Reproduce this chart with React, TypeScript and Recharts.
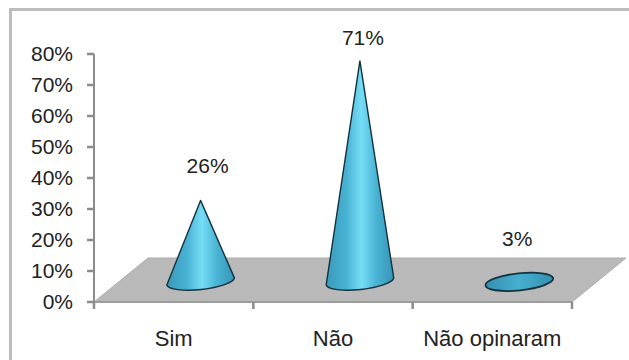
import React from "react";
import { Bar, BarChart, LabelList, ReferenceArea, XAxis, YAxis } from "recharts";

const categories = ["Sim", "Não", "Não opinaram"];
const shares = [26, 71, 3];
const yTicks = [0, 10, 20, 30, 40, 50, 60, 70, 80];

const rows = categories.map((name, i) => ({ name, share: shares[i] }));

const CHART_W = 629;
const CHART_H = 360;
const PLOT = { left: 94, right: 572, top: 54, bottom: 302 };
const BAND = (PLOT.right - PLOT.left) / categories.length;
const AXIS = "#8c8c8c";
const TEXT = "#222222";
const FONT = "'Liberation Sans', Arial, sans-serif";

// Oblique projection of the chart floor: depth moves marks right and up.
const DEPTH_X = 54;
const DEPTH_Y = 44;
const MID_X = DEPTH_X / 2;
const MID_Y = DEPTH_Y / 2 - 1;
const RY = 8.5;
const TILT = (-6 * Math.PI) / 180;

// Small hand adjustments so value labels clear each cone tip.
const labelNudge = [
  { dx: 7, dy: -27 },
  { dx: 3, dy: -16 },
  { dx: -2, dy: -26 },
];

function ellipsePoint(cx: number, cy: number, rx: number, t: number) {
  const ex = rx * Math.cos(t);
  const ey = RY * Math.sin(t);
  return {
    x: cx + ex * Math.cos(TILT) - ey * Math.sin(TILT),
    y: cy + ex * Math.sin(TILT) + ey * Math.cos(TILT),
  };
}

function Cone(props: any) {
  const { x, y, width, height } = props;
  const cx = x + width / 2 + MID_X;
  const baseY = y + height - MID_Y;
  const apexY = y - MID_Y;
  const rx = width / 2;
  const right = ellipsePoint(cx, baseY, rx, 0.05);
  const left = ellipsePoint(cx, baseY, rx, Math.PI - 0.05);
  const flat = height < 20;
  const deg = (TILT * 180) / Math.PI;
  const d = flat
    ? `M${right.x},${right.y} A${rx},${RY} ${deg} 1 1 ${left.x},${left.y} A${rx},${RY} ${deg} 0 1 ${right.x},${right.y} Z`
    : `M${cx},${apexY} L${right.x},${right.y} A${rx},${RY} ${deg} 0 1 ${left.x},${left.y} Z`;
  return (
    <path
      d={d}
      fill={flat ? "url(#coneFlat)" : "url(#coneBody)"}
      stroke="#14323e"
      strokeWidth={flat ? 1.8 : 1.4}
      strokeLinejoin="round"
    />
  );
}

function Floor(props: any) {
  const { x, y, width, height } = props;
  const by = y + height;
  const pts = [
    [x, by],
    [x + width, by],
    [x + width + DEPTH_X, by - DEPTH_Y],
    [x + DEPTH_X, by - DEPTH_Y],
  ]
    .map((p) => p.join(","))
    .join(" ");
  return <polygon points={pts} fill="#b9b9b9" stroke="#adadad" strokeWidth={1} />;
}

// Category label centred in its band, with tick marks on the band edges.
function CategoryTick(props: any) {
  const { x, payload, index } = props;
  const axisY = PLOT.bottom;
  const edge = x - BAND / 2;
  return (
    <g>
      <line x1={edge} x2={edge} y1={axisY} y2={axisY + 7} stroke={AXIS} strokeWidth={2.5} />
      {index === categories.length - 1 && (
        <line x1={edge + BAND} x2={edge + BAND} y1={axisY} y2={axisY + 7} stroke={AXIS} strokeWidth={2.5} />
      )}
      <text x={x} y={axisY + 44} textAnchor="middle" fontFamily={FONT} fontSize={22} fill={TEXT}>
        {payload.value}
      </text>
    </g>
  );
}

function ValueLabel(props: any) {
  const { x, y, width, value, index } = props;
  const nudge = labelNudge[index];
  return (
    <text
      x={x + width / 2 + MID_X + nudge.dx}
      y={y - MID_Y + nudge.dy}
      textAnchor="middle"
      fontFamily={FONT}
      fontSize={21}
      fill={TEXT}
    >
      {`${value}%`}
    </text>
  );
}

export default function App() {
  return (
    <div style={{ position: "absolute", left: 0, top: 0, width: CHART_W, height: CHART_H, background: "#fff", overflow: "hidden" }}>
      <div
        style={{
          position: "absolute",
          left: 9,
          top: 8,
          width: CHART_W,
          height: CHART_H,
          borderLeft: "3px solid #bdbdbd",
          borderTop: "3px solid #bdbdbd",
        }}
      />
      <BarChart
        width={CHART_W}
        height={CHART_H}
        data={rows}
        barCategoryGap="28.6%"
        margin={{ left: 0, right: CHART_W - PLOT.right, top: PLOT.top, bottom: 0 }}
        style={{ position: "absolute", left: 0, top: 0 }}
      >
        <defs>
          <linearGradient id="coneBody" x1="0" y1="0" x2="1" y2="0">
            <stop offset="0" stopColor="#3a9abb" />
            <stop offset="0.3" stopColor="#48b2d3" />
            <stop offset="0.52" stopColor="#76ddf6" />
            <stop offset="0.75" stopColor="#48b2d3" />
            <stop offset="1" stopColor="#3795b5" />
          </linearGradient>
          <linearGradient id="coneFlat" x1="0" y1="0" x2="1" y2="0">
            <stop offset="0" stopColor="#348fb0" />
            <stop offset="0.5" stopColor="#47afd0" />
            <stop offset="1" stopColor="#348fb0" />
          </linearGradient>
        </defs>
        <ReferenceArea y1={0} y2={10} shape={<Floor />} ifOverflow="visible" />
        <XAxis
          dataKey="name"
          interval={0}
          height={CHART_H - PLOT.bottom}
          axisLine={{ stroke: "#9c9c9c", strokeWidth: 2 }}
          tickLine={false}
          tick={<CategoryTick />}
        />
        <YAxis
          domain={[0, 80]}
          ticks={yTicks}
          width={PLOT.left}
          interval={0}
          axisLine={{ stroke: AXIS, strokeWidth: 2 }}
          tickLine={{ stroke: AXIS, strokeWidth: 2.5 }}
          tickSize={7}
          tickMargin={14}
          tickFormatter={(v: number) => `${v}%`}
          tick={{ fontFamily: FONT, fontSize: 21, fill: TEXT }}
        />
        <Bar dataKey="share" shape={<Cone />} isAnimationActive={false}>
          <LabelList dataKey="share" content={<ValueLabel />} />
        </Bar>
      </BarChart>
    </div>
  );
}
